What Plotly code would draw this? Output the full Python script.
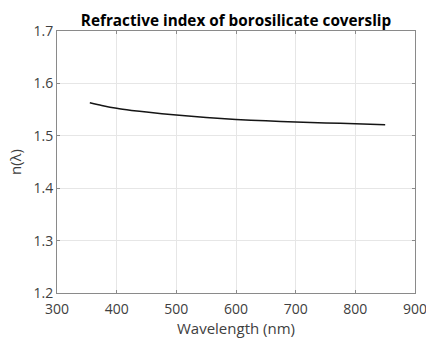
import plotly.graph_objects as go

wavelength_nm = [355, 375, 400, 425, 450, 500, 550, 600, 650, 700, 750, 800, 850]
refractive_index = [1.5632, 1.5580, 1.5525, 1.5485, 1.5452, 1.5397, 1.5348, 1.5310, 1.5285, 1.5264, 1.5246, 1.5230, 1.5212]

x_ticks = [300, 400, 500, 600, 700, 800, 900]
y_ticks = [1.2, 1.3, 1.4, 1.5, 1.6, 1.7]

fig = go.Figure()
fig.add_trace(go.Scatter(
    x=wavelength_nm, y=refractive_index, mode="lines",
    line=dict(color="#151515", width=1.5, shape="spline", smoothing=0.7),
    showlegend=False, hoverinfo="skip",
))

axis_common = dict(
    showgrid=True, gridcolor="#e6e6e6", gridwidth=1,
    showline=True, linecolor="#8a8a8a", linewidth=1, mirror="ticks",
    ticks="inside", ticklen=3, tickcolor="#8a8a8a",
    tickfont=dict(family="Open Sans", size=14, color="#404040"),
    ticklabeloverflow="allow",
    automargin=False,
    zeroline=False,
)

fig.update_layout(
    width=426, height=340,
    margin=dict(l=57, r=11, t=31, b=47),
    paper_bgcolor="white", plot_bgcolor="white",
    title=dict(text="<b>Refractive index of borosilicate coverslip</b>",
               font=dict(family="Open Sans", size=15.3, color="black"),
               xref="paper", x=0.5, xanchor="center",
               yref="container", y=0.938, yanchor="middle", automargin=False),
    xaxis=dict(range=[300, 900], tickvals=x_ticks, ticklabelstandoff=3,
               title=dict(text="Wavelength (nm)", standoff=5,
                          font=dict(family="Open Sans", size=15, color="#404040")),
               **axis_common),
    yaxis=dict(range=[1.2, 1.7], tickvals=y_ticks, tickformat=".1f",
               title=dict(text="n(λ)", standoff=8,
                          font=dict(family="Open Sans", size=15, color="#404040")),
               **axis_common),
)

fig.write_html("out.html", config={"displayModeBar": False},
               post_script="document.body.style.margin='0';document.body.style.overflow='hidden';")
